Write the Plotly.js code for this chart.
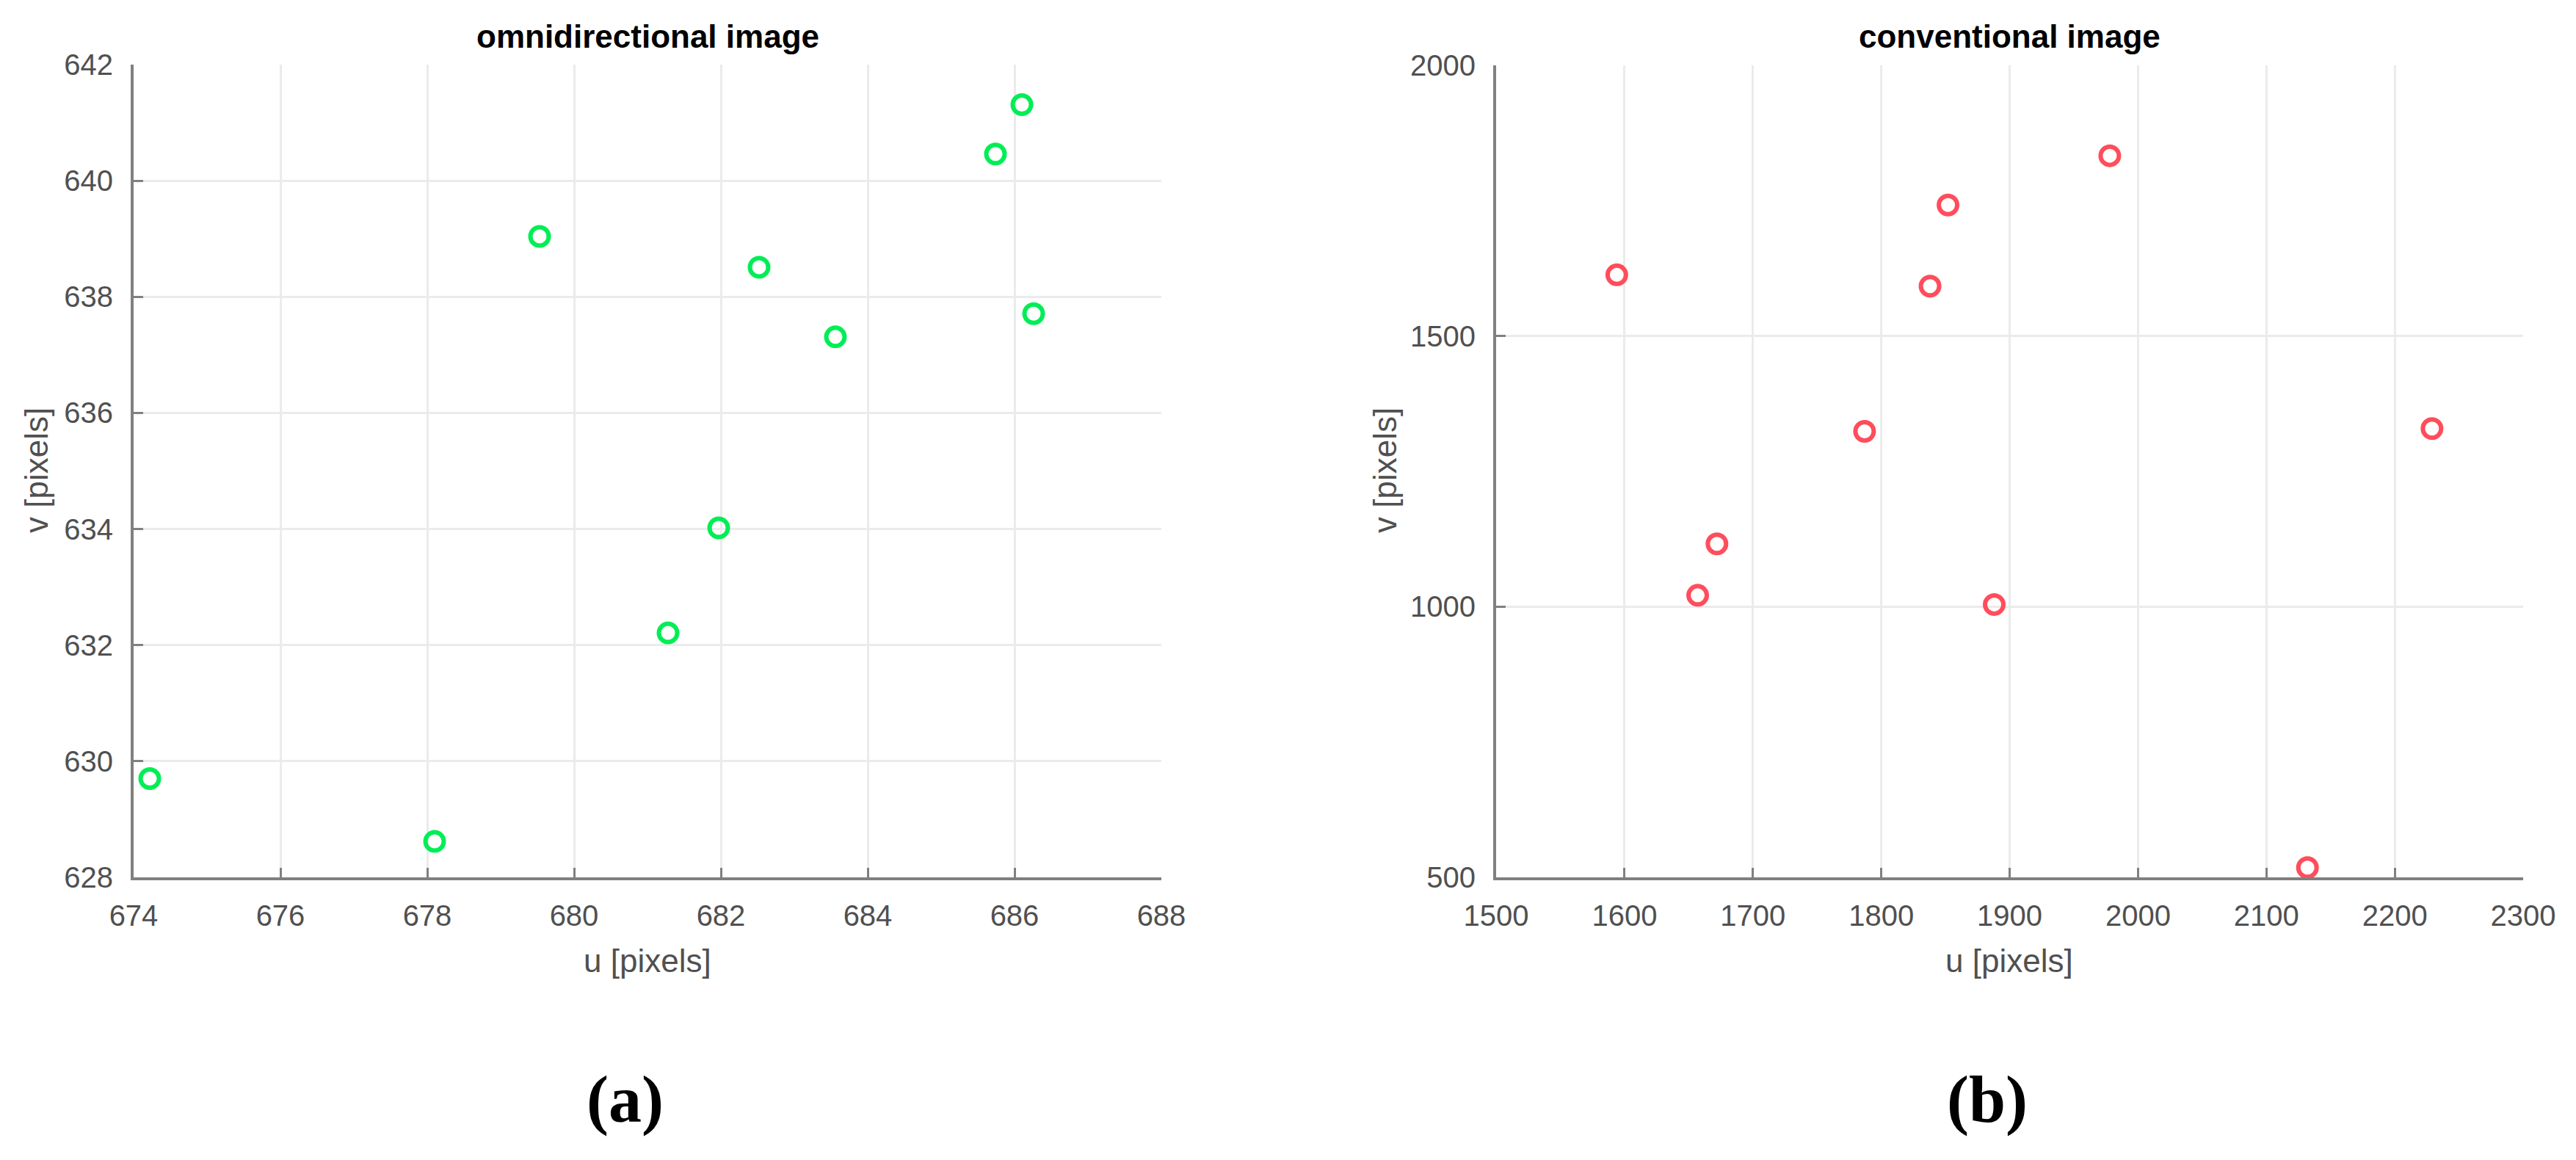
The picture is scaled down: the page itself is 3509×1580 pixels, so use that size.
<!DOCTYPE html>
<html>
<head>
<meta charset="utf-8">
<script src="https://cdn.plot.ly/plotly-3.0.1.min.js"></script>
<style>
  html, body { margin: 0; padding: 0; background: #fff; }
  #plot { width: 3509px; height: 1580px; }
</style>
</head>
<body>
<div id="plot"></div>
<script>
// omnidirectional image points (u, v)
var omniU = [674.22, 678.10, 679.53, 681.28, 681.97, 682.52, 683.56, 685.74, 686.10, 686.26];
var omniV = [629.70, 628.62, 639.04, 632.21, 634.02, 638.51, 637.31, 640.46, 641.31, 637.71];

// conventional image points (u, v)
var convU = [1594, 1657, 1672, 1787, 1838, 1852, 1888, 1978, 2132, 2229];
var convV = [1613, 1021, 1116, 1324, 1592, 1742, 1004, 1833, 518, 1329];

var titles = ['omnidirectional image', 'conventional image'];
var xLabel = 'u [pixels]';
var yLabel = 'v [pixels]';
var panelTags = ['(a)', '(b)'];

var tickFont = {family: 'Liberation Sans, Arial, sans-serif', size: 40, color: '#505050'};
var labelFont = {family: 'Liberation Sans, Arial, sans-serif', size: 44, color: '#505050'};

function axisStyle(extra) {
  var a = {
    showline: true, linecolor: '#808080', linewidth: 4, mirror: false,
    ticks: 'inside', ticklen: 13, tickwidth: 3, tickcolor: '#808080',
    showgrid: true, gridcolor: '#ebebeb', gridwidth: 3,
    zeroline: false, tickfont: tickFont, autorange: false, fixedrange: true
  };
  for (var k in extra) a[k] = extra[k];
  return a;
}

var data = [
  {
    x: omniU, y: omniV, xaxis: 'x', yaxis: 'y',
    mode: 'markers', type: 'scatter',
    marker: {symbol: 'circle-open', size: 25, color: '#00ee55', line: {width: 6, color: '#00ee55'}}
  },
  {
    x: convU, y: convV, xaxis: 'x2', yaxis: 'y2',
    mode: 'markers', type: 'scatter',
    marker: {symbol: 'circle-open', size: 25, color: '#ff4d5c', line: {width: 6, color: '#ff4d5c'}}
  }
];

var W = 3509, H = 1580;
function px(x) { return x / W; }
function py(y) { return 1 - y / H; }

var layout = {
  width: W, height: H,
  margin: {l: 0, r: 0, t: 0, b: 0},
  paper_bgcolor: '#ffffff', plot_bgcolor: '#ffffff',
  showlegend: false,
  xaxis: axisStyle({domain: [px(182), px(1582)], range: [674, 688], dtick: 2, tick0: 674, anchor: 'y', ticklabelstandoff: 14}),
  yaxis: axisStyle({domain: [py(1195), py(88)], range: [628, 642], dtick: 2, tick0: 628, anchor: 'x', ticklabelstandoff: 16}),
  xaxis2: axisStyle({domain: [px(2038), px(3437)], range: [1500, 2300], dtick: 100, tick0: 1500, anchor: 'y2', ticklabelstandoff: 14}),
  yaxis2: axisStyle({domain: [py(1195), py(89)], range: [500, 2000], dtick: 500, tick0: 500, anchor: 'x2', ticklabelstandoff: 16}),
  annotations: [
    {text: '<b>' + titles[0] + '</b>', xref: 'paper', yref: 'paper', x: px(882), y: py(50), xanchor: 'center', yanchor: 'middle', showarrow: false,
     font: {family: 'Liberation Sans, Arial, sans-serif', size: 44, color: '#000'}},
    {text: '<b>' + titles[1] + '</b>', xref: 'paper', yref: 'paper', x: px(2737), y: py(50), xanchor: 'center', yanchor: 'middle', showarrow: false,
     font: {family: 'Liberation Sans, Arial, sans-serif', size: 44, color: '#000'}},
    {text: xLabel, xref: 'paper', yref: 'paper', x: px(882), y: py(1308), xanchor: 'center', yanchor: 'middle', showarrow: false, font: labelFont},
    {text: xLabel, xref: 'paper', yref: 'paper', x: px(2737), y: py(1308), xanchor: 'center', yanchor: 'middle', showarrow: false, font: labelFont},
    {text: yLabel, xref: 'paper', yref: 'paper', x: px(50), y: py(641), xanchor: 'center', yanchor: 'middle', textangle: -90, showarrow: false, font: labelFont},
    {text: yLabel, xref: 'paper', yref: 'paper', x: px(1887), y: py(641), xanchor: 'center', yanchor: 'middle', textangle: -90, showarrow: false, font: labelFont},
    {text: '<b>' + panelTags[0] + '</b>', xref: 'paper', yref: 'paper', x: px(851), y: py(1498), xanchor: 'center', yanchor: 'middle', showarrow: false,
     font: {family: 'Liberation Serif, Times New Roman, serif', size: 90, color: '#000'}},
    {text: '<b>' + panelTags[1] + '</b>', xref: 'paper', yref: 'paper', x: px(2707), y: py(1498), xanchor: 'center', yanchor: 'middle', showarrow: false,
     font: {family: 'Liberation Serif, Times New Roman, serif', size: 90, color: '#000'}}
  ]
};

Plotly.newPlot('plot', data, layout, {staticPlot: true});
</script>
</body>
</html>
